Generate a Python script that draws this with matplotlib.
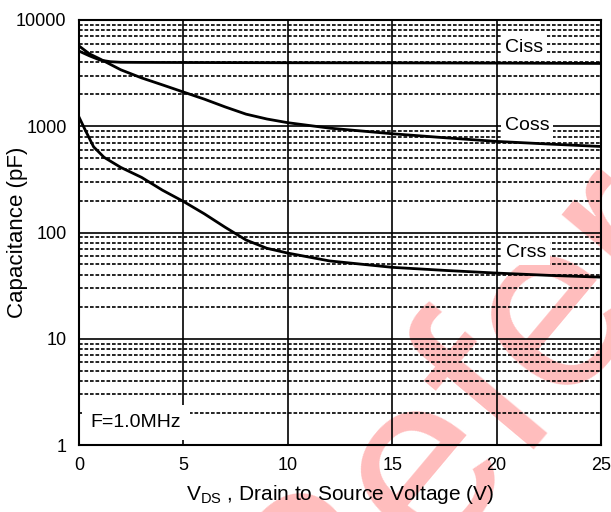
import numpy as np
import matplotlib
matplotlib.use("Agg")
import matplotlib.pyplot as plt
from matplotlib.ticker import LogLocator, NullFormatter

plt.rcParams['font.family'] = ['Liberation Sans', 'DejaVu Sans']
plt.rcParams['mathtext.default'] = 'regular'

# capacitance vs drain-source voltage, F = 1.0 MHz
v_ciss = [0, 0.5, 1, 1.5, 2, 3, 5, 10, 15, 20, 25]
ciss = [5100, 4600, 4200, 4050, 4000, 3990, 3980, 3960, 3950, 3930, 3900]

v_coss = [0, 0.5, 1, 2, 3, 4, 5, 6, 7, 8, 9, 10, 12, 15, 17.5, 20, 22.5, 25]
coss = [5700, 4800, 4300, 3400, 2850, 2450, 2100, 1800, 1520, 1300, 1170, 1080,
        960, 850, 780, 720, 680, 645]

v_crss = [0, 0.3, 0.7, 1.2, 2, 3, 4, 5, 6, 7, 8, 9, 10, 12, 15, 17.5, 20, 22.5, 25]
crss = [1220, 920, 640, 510, 410, 330, 250, 196, 150, 112, 85, 71, 64, 54, 47,
        44, 41.5, 39.5, 38]

x_ticks = [0, 5, 10, 15, 20, 25]
y_ticks = [1, 10, 100, 1000, 10000]
y_labels = ['1', '10', '100', '1000', '10000']

fig = plt.figure(figsize=(6.11, 5.12), dpi=100)
ax = fig.add_axes([79 / 611, 1 - 445 / 512, 522 / 611, 425 / 512])
ax.set_facecolor('none')

# watermark behind everything
fig.text(314 / 611, -176 / 512, 'Reference', fontsize=175, color='#ffbdbd',
         rotation=50, rotation_mode='anchor', ha='left', va='baseline', zorder=-10)

ax.plot(v_ciss, ciss, color='black', lw=2.0, zorder=2)
ax.plot(v_coss, coss, color='black', lw=2.0, zorder=2)
ax.plot(v_crss, crss, color='black', lw=2.0, zorder=2)

ax.set_yscale('log')
ax.set_xlim(0, 25)
ax.set_ylim(1, 10000)
ax.set_xticks(x_ticks)
ax.set_yticks(y_ticks)
ax.set_yticklabels(y_labels)
ax.yaxis.set_minor_locator(LogLocator(base=10, subs=range(2, 10)))
ax.yaxis.set_minor_formatter(NullFormatter())
ax.tick_params(which='both', length=0, labelsize=13, pad=9)

ax.grid(which='major', axis='both', color='black', lw=1.2)
ax.grid(which='minor', axis='y', color='black', lw=1.2, ls=(0, (2.2, 1.1)))
for s in ax.spines.values():
    s.set_linewidth(1.5)

box = dict(boxstyle='square,pad=0.2', fc='white', ec='none')
ax.text(20.4, 5570, 'Ciss', fontsize=14, va='center', ha='left', bbox=box, zorder=3)
ax.text(20.4, 1010, 'Coss', fontsize=14, va='center', ha='left', bbox=box, zorder=3)
ax.text(20.45, 65, 'Crss', fontsize=14, va='center', ha='left', bbox=box, zorder=3)
ax.text(0.55, 1.62, 'F=1.0MHz', fontsize=14, va='center', ha='left',
        bbox=dict(boxstyle='square,pad=0.45', fc='white', ec='none'), zorder=3)

ax.set_xlabel('$V_{DS}$ , Drain to Source Voltage (V)', fontsize=15, labelpad=6)
ax.set_ylabel('Capacitance (pF)', fontsize=16)
ax.yaxis.set_label_coords(-0.097, 0.5)

fig.savefig('out.png', dpi=100)
